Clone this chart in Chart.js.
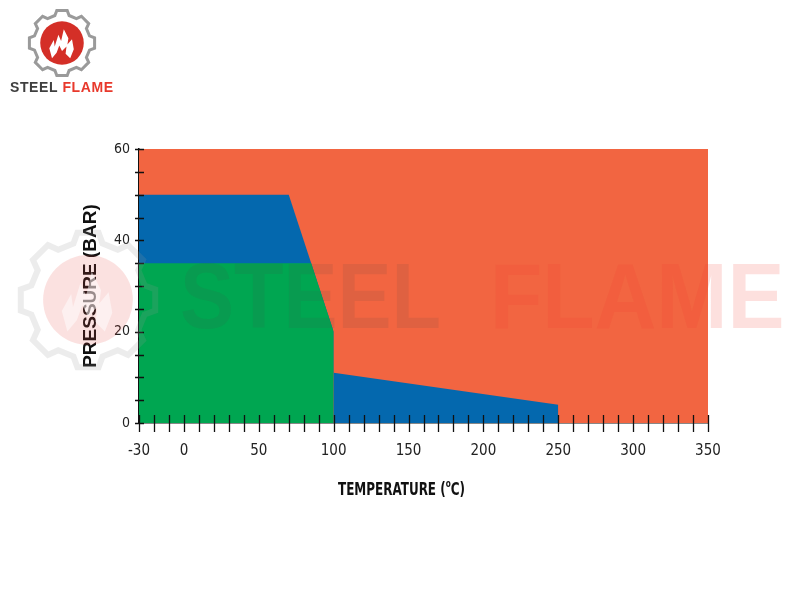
<!DOCTYPE html>
<html>
<head>
<meta charset="utf-8">
<title>Pressure / temperature rating</title>
<script src="https://cdn.jsdelivr.net/npm/chart.js@4.4.1/dist/chart.umd.min.js"></script>
<style>
    html, body { margin: 0; padding: 0; background: #fff; }
    #wrap { position: relative; width: 800px; height: 600px; overflow: hidden; }
    #chart { position: absolute; left: 0; top: 0; }
    svg.gear { position: absolute; }
    .brand { position: absolute; font-family: "Liberation Sans", Arial, sans-serif; font-weight: bold; white-space: nowrap; }
    .brand .s { color: #3f3f3f; }
    .brand .f { color: #e8392c; }
    #logoText { left: 10px; top: 79px; font-size: 14px; letter-spacing: 0.6px; }
    .wm { position: absolute; font-family: "Liberation Sans", Arial, sans-serif; font-weight: bold; font-size: 92px;
          line-height: 1; white-space: nowrap; transform-origin: 0 0; pointer-events: none; }
    #wmSteel { left: 180px; top: 250px; color: rgba(70, 70, 70, 0.11); transform: scaleX(0.88); }
    #wmFlame { left: 490px; top: 250px; color: rgba(240, 60, 50, 0.16); transform: scaleX(0.93); }
    #xTitle { position: absolute; left: 338px; top: 478px; font-family: "Liberation Sans Narrow", "DejaVu Sans Condensed", sans-serif;
              font-weight: bold; font-size: 18px; color: #111; white-space: nowrap; transform: scaleX(0.74); transform-origin: 0 0; }
    #xTitle sup { font-size: 11px; position: relative; top: -1px; }
</style>
</head>
<body>
<div id="wrap">
    <canvas id="chart" width="800" height="600"></canvas>
    <svg class="gear" id="logoGear" width="130" height="80" style="left:0;top:0"></svg>
    <div class="brand" id="logoText"><span class="s">STEEL</span> <span class="f">FLAME</span></div>
    <svg class="gear" id="wmGear" width="170" height="170" style="left:8px;top:215px;pointer-events:none"></svg>
    <div class="wm" id="wmSteel">STEEL</div>
    <div class="wm" id="wmFlame">FLAME</div>
    <div id="xTitle">TEMPERATURE (<sup>o</sup>C)</div>
</div>
<script>
/* Pressure / temperature envelope, redrawn with Chart.js. */

// Axis ranges and labelled ticks.
var tempMin = -30;
var tempMax = 350;
var presMin = 0;
var presMax = 60;
var tempMinorStep = 10;
var presMinorStep = 5;
var tempLabels = [-30, 0, 50, 100, 150, 200, 250, 300, 350];
var presLabels = [0, 20, 40, 60];

// Region outlines (temperature in C, pressure in bar), each filled down to 0 bar.
var outerTemp = [-30, 350];
var outerPres = [60, 60];
var upperTemp = [-30, 70, 100];
var upperPres = [50, 50, 20];
var lowerTemp = [-30, 85, 100, 100];
var lowerPres = [35, 35, 20, 0];
var hotTemp = [100, 250, 250];
var hotPres = [11, 4, 0];

var ORANGE = "#f26541";
var BLUE = "#0468ae";
var GREEN = "#00a651";

var narrowFont = "'Liberation Sans Narrow', 'DejaVu Sans Condensed', sans-serif";

function toPoints(xs, ys) {
    return xs.map(function (x, i) {
        return { x: x, y: ys[i] };
    });
}

function region(label, xs, ys, color, order) {
    return {
        label: label,
        data: toPoints(xs, ys),
        backgroundColor: color,
        borderColor: color,
        borderWidth: 0,
        pointRadius: 0,
        tension: 0,
        fill: "origin",
        order: order,
    };
}

function stepTicks(min, max, step) {
    var out = [];
    for (var v = min; v <= max; v += step) {
        out.push({ value: v });
    }
    return out;
}

// Tick marks that cross the axis lines, like the printed chart.
var crossTicks = {
    id: "crossTicks",
    afterDraw: function (chart) {
        var ctx = chart.ctx;
        var xs = chart.scales.x;
        var ys = chart.scales.y;
        var area = chart.chartArea;
        ctx.save();
        ctx.strokeStyle = "#111";
        ctx.lineWidth = 1.3;
        ctx.beginPath();
        xs.ticks.forEach(function (t) {
            var px = Math.round(xs.getPixelForValue(t.value)) + 0.5;
            ctx.moveTo(px, area.bottom - 8);
            ctx.lineTo(px, area.bottom + 9);
        });
        ys.ticks.forEach(function (t) {
            var py = Math.round(ys.getPixelForValue(t.value)) + 0.5;
            ctx.moveTo(area.left - 4, py);
            ctx.lineTo(area.left + 5, py);
        });
        ctx.stroke();
        ctx.restore();
    },
};

new Chart(document.getElementById("chart"), {
    type: "line",
    data: {
        datasets: [
            region("Hot service", hotTemp, hotPres, BLUE, 1),
            region("Standard", lowerTemp, lowerPres, GREEN, 2),
            region("Upper", upperTemp, upperPres, BLUE, 3),
            region("Outside rating", outerTemp, outerPres, ORANGE, 4),
        ],
    },
    options: {
        responsive: false,
        animation: false,
        layout: { padding: { left: 60, right: 92, top: 149, bottom: 97 } },
        plugins: {
            legend: { display: false },
            tooltip: { enabled: false },
        },
        scales: {
            x: {
                type: "linear",
                min: tempMin,
                max: tempMax,
                afterBuildTicks: function (scale) {
                    scale.ticks = stepTicks(tempMin, tempMax, tempMinorStep);
                },
                afterFit: function (scale) {
                    scale.height = 80;
                },
                ticks: {
                    autoSkip: false,
                    maxRotation: 0,
                    padding: 19,
                    color: "#222",
                    font: { family: narrowFont, size: 15 },
                    callback: function (v) {
                        return tempLabels.indexOf(v) >= 0 ? String(v) : "";
                    },
                },
                grid: { display: false, drawTicks: false },
                border: { display: true, color: "#111", width: 1.5 },
            },
            y: {
                type: "linear",
                min: presMin,
                max: presMax,
                afterBuildTicks: function (scale) {
                    scale.ticks = stepTicks(presMin, presMax, presMinorStep);
                },
                afterFit: function (scale) {
                    scale.width = 79;
                },
                ticks: {
                    autoSkip: false,
                    padding: 9,
                    color: "#222",
                    font: { family: narrowFont, size: 14 },
                    callback: function (v) {
                        return presLabels.indexOf(v) >= 0 ? String(v) : "";
                    },
                },
                grid: { display: false, drawTicks: false },
                border: { display: true, color: "#111", width: 1.5 },
                title: {
                    display: true,
                    text: "PRESSURE (BAR)",
                    color: "#111",
                    padding: { top: 19, bottom: 0 },
                    font: { family: "'Liberation Sans', Arial, sans-serif", size: 19, weight: "bold" },
                },
            },
        },
    },
    plugins: [crossTicks],
});

// Brand gear + flame drawn as SVG (logo and faint watermark).
function gearPath(cx, cy, rOut, rIn, teeth) {
    var step = (Math.PI * 2) / teeth;
    var d = "";
    for (var i = 0; i < teeth; i++) {
        var a = i * step - Math.PI / 2;
        var pts = [
            [rIn, a - step * 0.32],
            [rOut, a - step * 0.2],
            [rOut, a + step * 0.2],
            [rIn, a + step * 0.32],
        ];
        pts.forEach(function (p, j) {
            var x = (cx + p[0] * Math.cos(p[1])).toFixed(1);
            var y = (cy + p[0] * Math.sin(p[1])).toFixed(1);
            d += (i === 0 && j === 0 ? "M" : "L") + x + "," + y;
        });
    }
    return d + "Z";
}

function flamePath(cx, cy, s) {
    // rough flame silhouette, scaled around the circle centre
    var p = [
        [-0.55, 0.75], [-0.7, 0.2], [-0.45, -0.25], [-0.4, 0.1], [-0.2, -0.55],
        [-0.05, -0.2], [0.1, -0.85], [0.35, -0.35], [0.3, 0.0], [0.55, -0.3],
        [0.65, 0.25], [0.45, 0.75], [0.2, 0.5], [0.25, 0.1], [0.0, 0.35],
        [-0.15, 0.05], [-0.3, 0.45],
    ];
    return "M" + p.map(function (q) {
        return (cx + q[0] * s).toFixed(1) + "," + (cy + q[1] * s).toFixed(1);
    }).join("L") + "Z";
}

function drawBadge(svgId, cx, cy, r, opts) {
    var svg = document.getElementById(svgId);
    svg.innerHTML =
        '<path d="' + gearPath(cx, cy, r, r * 0.86, 8) + '" fill="' + opts.gearFill +
        '" stroke="' + opts.gearStroke + '" stroke-width="' + opts.strokeW + '"/>' +
        '<circle cx="' + cx + '" cy="' + cy + '" r="' + (r * 0.66) + '" fill="' + opts.red + '"/>' +
        '<path d="' + flamePath(cx, cy + r * 0.05, r * 0.55) + '" fill="' + opts.flame + '"/>';
}

drawBadge("logoGear", 62, 43, 33, {
    gearFill: "#fff", gearStroke: "#9a9a9a", strokeW: 3,
    red: "#d42f27", flame: "#fff",
});
drawBadge("wmGear", 80, 85, 68, {
    gearFill: "none", gearStroke: "rgba(150,150,150,0.18)", strokeW: 6,
    red: "rgba(230,70,60,0.16)", flame: "rgba(255,255,255,0.5)",
});
</script>
</body>
</html>
